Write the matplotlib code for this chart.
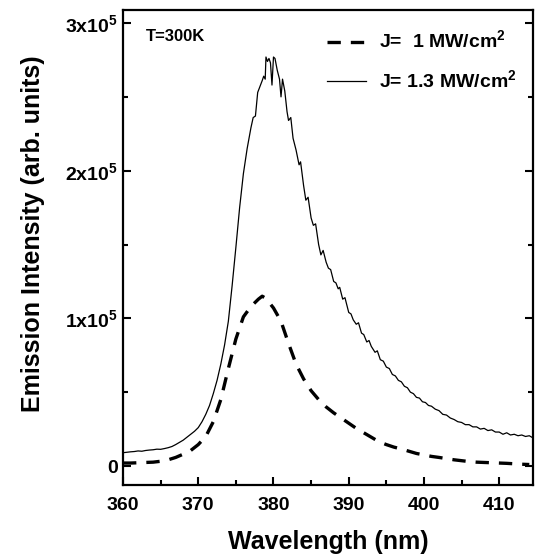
import matplotlib
matplotlib.use("Agg")
import matplotlib.pyplot as plt
from matplotlib.ticker import MultipleLocator, FixedLocator

plt.rcParams['font.family'] = ['Liberation Sans', 'DejaVu Sans']
plt.rcParams['font.weight'] = 'bold'
plt.rcParams['mathtext.fontset'] = 'custom'
plt.rcParams['mathtext.rm'] = 'Liberation Sans:bold'
plt.rcParams['mathtext.bf'] = 'Liberation Sans:bold'

# J = 1.3 MW/cm2 (solid), intensity in units of 1e3
wl_high = [360.0, 360.5, 361.0, 361.5, 362.0, 362.5, 363.0, 363.5, 364.0, 364.5,
           365.0, 365.5, 366.0, 366.5, 367.0, 367.5, 368.0, 368.5, 369.0, 369.5,
           370.0, 370.5, 371.0, 371.5, 372.0, 372.5, 373.0, 373.5, 374.0, 374.5,
           375.0, 375.5, 376.0, 376.5, 377.0, 377.3, 377.6, 377.9, 378.2, 378.5,
           378.7, 378.9, 379.0, 379.2, 379.4, 379.6, 379.8, 380.0, 380.2, 380.5,
           380.8, 381.0, 381.2, 381.5, 381.8, 382.0, 382.3, 382.6, 383.0, 383.4,
           383.6, 384.0, 384.3, 384.6, 385.0, 385.3, 385.6, 386.0, 386.3, 386.6,
           387.0, 387.3, 387.6, 388.0, 388.3, 388.6, 388.8, 389.2, 389.5, 390.0,
           390.3, 390.6, 391.0, 391.3, 391.7, 392.0, 392.4, 392.7, 393.0, 393.5,
           393.8, 394.2, 394.6, 395.0, 395.4, 395.8, 396.2, 396.6, 397.0, 397.4,
           397.8, 398.2, 398.6, 399.0, 399.4, 399.8, 400.2, 400.6, 401.0, 401.5,
           402.0, 402.5, 403.0, 403.5, 404.0, 404.5, 405.0, 405.5, 406.0, 406.5,
           407.0, 407.5, 408.0, 408.5, 409.0, 409.5, 410.0, 410.5, 411.0, 411.5,
           412.0, 412.5, 413.0, 413.5, 414.0, 414.5]
int_high = [9.0, 9.3, 9.6, 9.8, 10.2, 10.0, 10.5, 10.8, 11.0, 11.4,
            11.3, 11.8, 12.4, 13.2, 14.5, 16.0, 17.5, 19.5, 21.5, 23.5,
            26.0, 30.0, 35.0, 41.0, 49.0, 58.0, 69.0, 82.0, 98.0, 122.0,
            148.0, 175.0, 198.0, 215.0, 229.0, 236.0, 237.0, 253.0, 257.0, 261.0,
            264.0, 262.0, 277.0, 274.0, 276.0, 273.0, 258.0, 277.0, 276.0, 268.0,
            262.0, 250.0, 262.0, 254.0, 240.0, 234.0, 236.0, 222.0, 214.0, 204.0,
            206.0, 190.0, 180.0, 182.0, 168.0, 163.0, 164.0, 150.0, 143.0, 146.0,
            138.0, 134.0, 133.0, 125.0, 124.0, 120.0, 121.0, 113.0, 114.0, 104.0,
            103.0, 99.0, 96.0, 97.0, 90.0, 89.0, 84.0, 85.0, 81.0, 77.0,
            78.0, 72.0, 71.0, 67.0, 66.0, 62.0, 61.0, 58.0, 57.0, 54.0,
            53.0, 50.0, 49.0, 46.5, 46.0, 43.5, 43.0, 41.0, 40.5, 38.5,
            37.5, 35.0, 34.5, 32.5, 31.5, 30.0, 29.5, 28.0, 28.0, 26.5,
            26.5, 25.0, 25.5, 24.0, 24.5, 23.0, 23.0, 21.5, 22.5, 21.0,
            21.5, 20.5, 21.0, 20.0, 20.5, 19.0]

# J = 1 MW/cm2 (dashed), intensity in units of 1e3
wl_low = [360, 361, 362, 363, 364, 365, 366, 367, 368, 369, 370, 371, 372, 373,
          374, 375, 376, 377, 378, 378.5, 379, 380, 381, 382, 383, 384, 385, 386,
          387, 388, 389, 390, 391, 392, 393, 394, 395, 396, 397, 398, 399, 400,
          401, 402, 403, 404, 405, 406, 407, 408, 409, 410, 411, 412, 413, 414]
int_low = [2.0, 2.0, 2.2, 2.4, 2.6, 3.2, 4.2, 5.8, 8.0, 10.5, 14.5, 20.0, 30.0, 45.0,
           66.0, 86.0, 101.0, 108.0, 113.0, 115.0, 113.5, 107.0, 98.0, 83.0, 69.0, 59.0, 51.0, 45.0,
           40.0, 36.0, 32.5, 29.0, 25.5, 22.5, 19.5, 16.5, 14.5, 12.8, 11.5, 10.0, 8.5, 7.5,
           6.5, 5.8, 5.0, 4.2, 3.6, 3.0, 2.6, 2.4, 2.2, 2.0, 1.8, 1.5, 1.2, 1.0]

ytick_vals = [0, 100000, 200000, 300000]
ytick_labels = ['0', r'$\mathbf{1x10^{5}}$', r'$\mathbf{2x10^{5}}$', r'$\mathbf{3x10^{5}}$']
xtick_vals = [360, 370, 380, 390, 400, 410]

fig = plt.figure(figsize=(5.36, 5.58), dpi=100)
ax = fig.add_axes([0.2295, 0.131, 0.765, 0.851])

ax.plot(wl_low, [v * 1000 for v in int_low], color='black', lw=2.4,
        dashes=(4.0, 3.0), label=r'J=  1 MW/cm$^{\mathbf{2}}$')
ax.plot(wl_high, [v * 1000 for v in int_high], color='black', lw=0.9,
        label=r'J= 1.3 MW/cm$^{\mathbf{2}}$')

ax.set_xlim(360, 414.5)
ax.set_ylim(-12800, 308800)
ax.xaxis.set_major_locator(FixedLocator(xtick_vals))
ax.xaxis.set_minor_locator(MultipleLocator(5))
ax.yaxis.set_major_locator(FixedLocator(ytick_vals))
ax.yaxis.set_minor_locator(MultipleLocator(50000))
ax.set_xticklabels([str(v) for v in xtick_vals], fontsize=14, fontweight='bold')
ax.set_yticklabels(ytick_labels, fontsize=14)
ax.tick_params(which='major', direction='in', length=6, width=1.5, right=True)
ax.tick_params(which='minor', direction='in', length=3.5, width=1.5, right=True)
ax.tick_params(axis='x', pad=9)
for s in ax.spines.values():
    s.set_linewidth(1.6)

ax.set_xlabel('Wavelength (nm)', fontsize=18, fontweight='bold', labelpad=11)
ax.set_ylabel('Emission Intensity (arb. units)', fontsize=18, fontweight='bold')
ax.yaxis.set_label_coords(-0.19, 0.53)

ax.text(0.055, 0.945, 'T=300K', transform=ax.transAxes, fontsize=12,
        fontweight='bold', va='center', ha='left')

ax.legend(loc='upper right', bbox_to_anchor=(1.003, 0.995), frameon=False,
          fontsize=14, handlelength=2.0, labelspacing=0.85, handletextpad=0.7)

fig.savefig('out.png', dpi=100)
